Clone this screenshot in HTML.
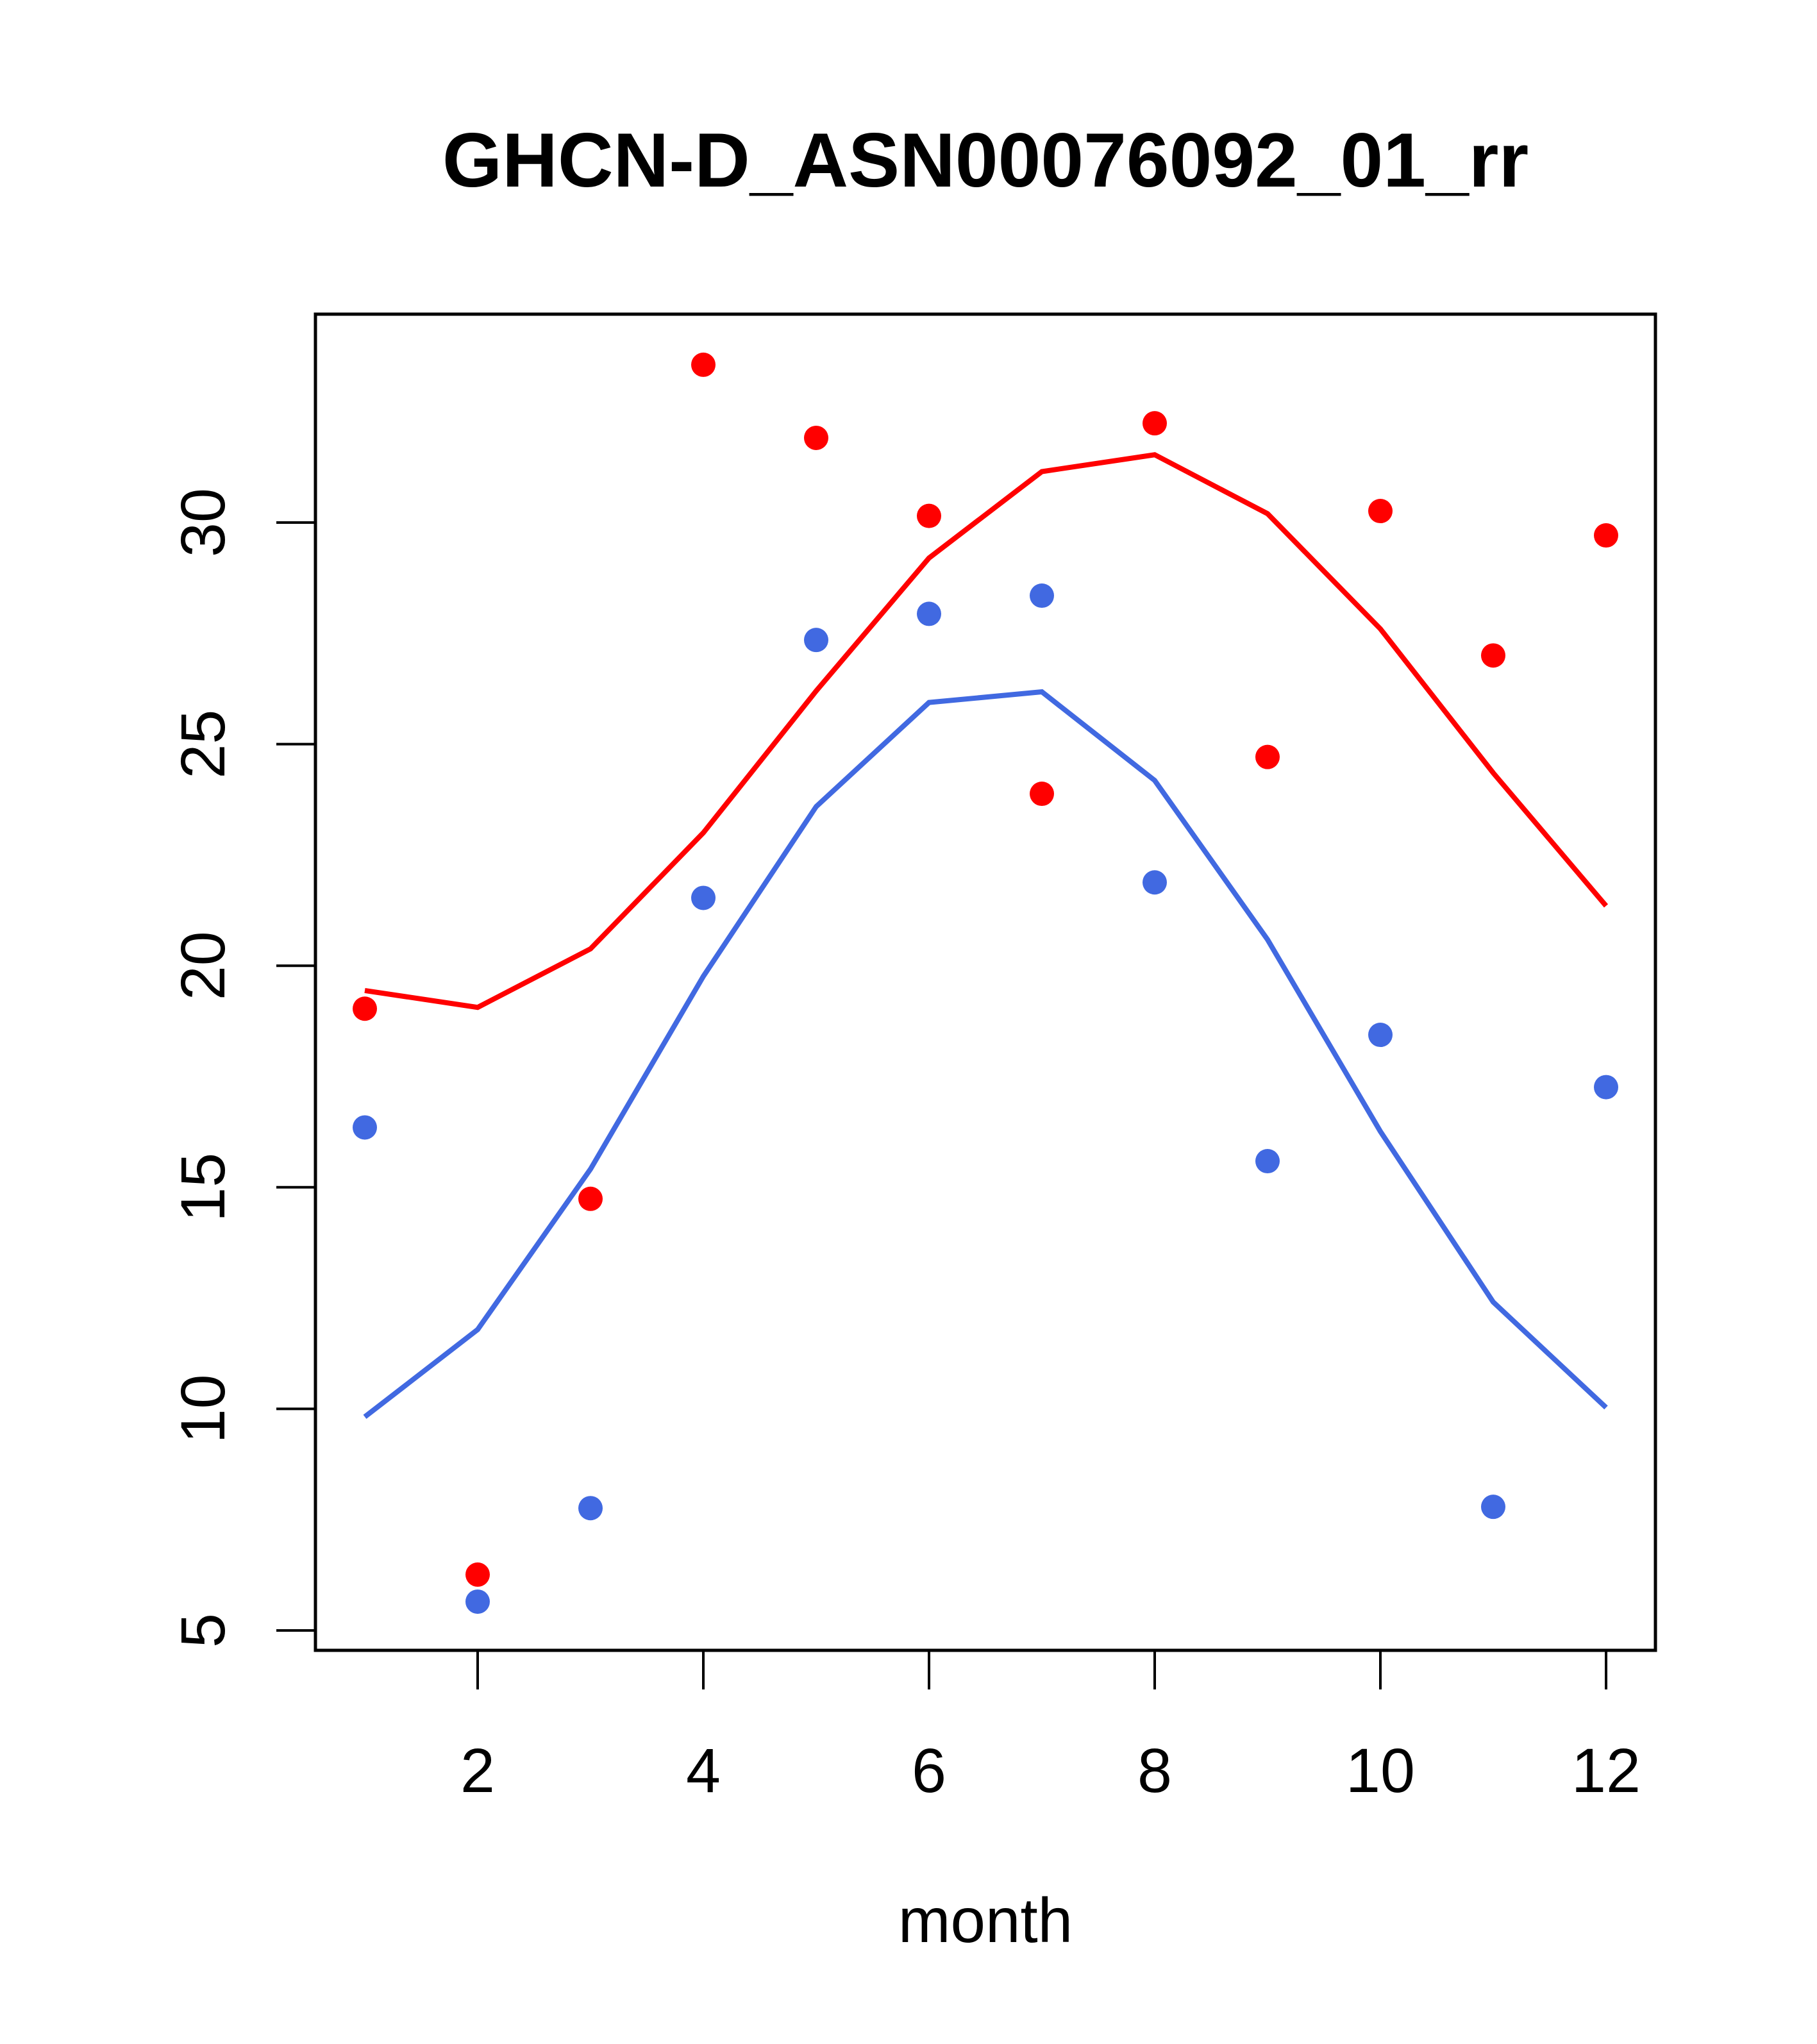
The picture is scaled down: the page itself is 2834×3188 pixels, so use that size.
<!DOCTYPE html>
<html><head><meta charset="utf-8"><style>
html,body{margin:0;padding:0;background:#fff}
svg{display:block}
text{font-family:"Liberation Sans",Arial,sans-serif}
</style></head><body>
<svg id="chart" width="2834" height="3188" viewBox="0 0 2834 3188">
<text x="1537" y="291" font-size="120" font-weight="bold" text-anchor="middle">GHCN-D_ASN00076092_01_rr</text>
<text x="1537" y="3029" font-size="98" text-anchor="middle">month</text>
<rect x="492" y="490" width="2090" height="2084" fill="none" stroke="#000" stroke-width="5"/>
<g id="axes"></g>
<g id="marks"></g>
</svg>
<script>
const months = [1,2,3,4,5,6,7,8,9,10,11,12];
const redPoints = [19.03,6.26,14.74,33.56,31.91,30.15,23.88,32.24,24.71,30.26,27.0,29.71];
const redLine = [19.44,19.06,20.38,23.0,26.2,29.2,31.15,31.53,30.2,27.6,24.35,21.35];
const bluePoints = [16.35,5.65,7.76,21.53,27.35,27.94,28.35,21.88,15.59,18.44,7.79,17.26];
const blueLine = [9.82,11.79,15.41,19.76,23.59,25.94,26.18,24.18,20.59,16.26,12.41,10.03];
const xTicks = [2,4,6,8,10,12];
const yTicks = [5,10,15,20,25,30];

const NS="http://www.w3.org/2000/svg";
function X(m){return 569+(m-1)*(2505-569)/11;}
function Y(v){return 2543-(v-5)*(2543-815)/25;}
function mk(tag,attrs,parent){const e=document.createElementNS(NS,tag);for(const k in attrs)e.setAttribute(k,attrs[k]);parent.appendChild(e);return e;}
const axes=document.getElementById('axes'), marks=document.getElementById('marks');
mk('line',{x1:X(2),x2:X(12),y1:2574,y2:2574,stroke:'#000','stroke-width':4},axes);
xTicks.forEach(t=>{
  const l=mk('line',{x1:X(t),x2:X(t),y1:2574,y2:2635,stroke:'#000','stroke-width':4},axes);
  
  
  const tx=mk('text',{x:X(t),y:2795,'font-size':97,'text-anchor':'middle'},axes);
  tx.textContent=t;
  
  
});
mk('line',{x1:492,x2:492,y1:Y(5),y2:Y(30),stroke:'#000','stroke-width':4},axes);
yTicks.forEach(t=>{
  const l=mk('line',{x1:431,x2:492,y1:Y(t),y2:Y(t),stroke:'#000','stroke-width':4},axes);
  
  
  const tx=mk('text',{x:0,y:0,'font-size':97,'text-anchor':'middle',transform:`translate(350,${Y(t)}) rotate(-90)`},axes);
  tx.textContent=t;
  
  
});
function series(line,pts,color,name){
  const p=mk('polyline',{points:line.map((v,i)=>X(months[i])+','+Y(v)).join(' '),fill:'none',stroke:color,'stroke-width':8},marks);
  
  
  pts.forEach((v,i)=>{
    const c=mk('circle',{cx:X(months[i]),cy:Y(v),r:19,fill:color},marks);
    
    
  });
}
series(redLine,redPoints,'#FF0000','red');
series(blueLine,bluePoints,'#4169E1','blue');
</script>
</body></html>
